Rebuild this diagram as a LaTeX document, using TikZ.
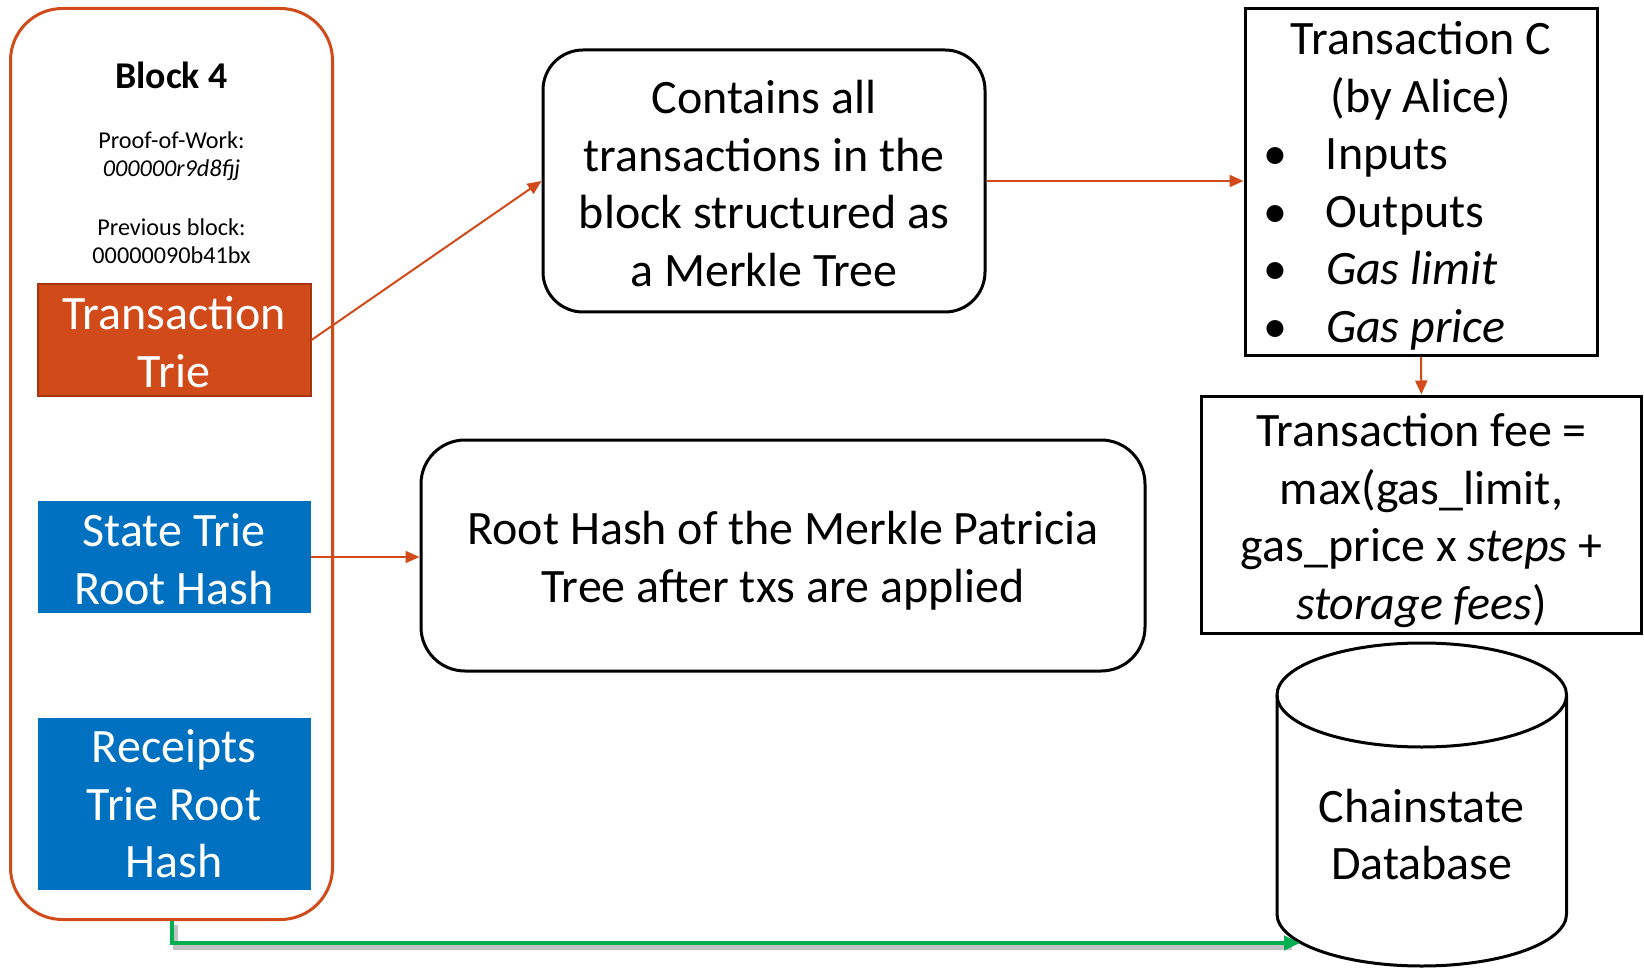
\documentclass[tikz,border=0pt]{standalone}
\usepackage{fontspec}
\setmainfont{Carlito}
\usepackage{tikz}
\usetikzlibrary{arrows.meta,positioning}
\definecolor{rust}{RGB}{209,74,26}
\definecolor{rustdark}{RGB}{165,52,16}
\definecolor{azure}{RGB}{0,112,192}
\definecolor{grass}{RGB}{0,176,80}
\newcommand{\bigtxt}{\fontsize{24}{28.75}\selectfont}
\newcommand{\lift}[1]{\rule{0pt}{#1}}
\tikzset{
  >={Triangle[length=7pt,width=6pt]},
  trie/.style={fill=#1,text=white,minimum width=136.5pt,inner sep=0pt,
    align=center,font=\bigtxt},
  trie/.default=azure,
  note/.style={draw=black,line width=1.5pt,rounded corners=#1,inner sep=0pt,
    align=center,font=\bigtxt},
  note/.default=0pt,
  flow/.style={->,line width=1pt,draw=#1},
  flow/.default=rust,
  meta/.style={font=\fontsize{12.1}{14.2}\selectfont,align=center},
}

\begin{document}
\begin{tikzpicture}[x=0.5pt,y=-0.5pt]
  \useasboundingbox (0,0) rectangle (1644,968);
  % the block with its header
  \node[draw=rust,line width=1.5pt,rounded corners=26pt,minimum width=161pt,
    minimum height=455.5pt] (block) at (171.5,464) {};
  \node[font=\fontsize{18.9}{22}\selectfont\bfseries] (title) at (171.5,75.5) {Block 4};
  \node[meta] (pow) at (171.5,156) {Proof-of-Work:\\\textit{000000r9d8fjj}};
  \node[meta] (prev) at (171.5,241) {Previous block:\\00000090b41bx};
  % the three roots
  \node[trie=rust,draw=rustdark,line width=1pt,minimum height=55.5pt] (ttrie) at (174,340) {\lift{18.5pt}Transaction\\Trie};
  \node[trie,minimum height=56pt] (strie) at (174,557) {\lift{18.5pt}State Trie\\Root Hash};
  \node[trie,minimum height=86pt] (rtrie) at (174,804) {Receipts\\Trie Root\\Hash};
  % what they stand for
  \node[note=20pt,minimum width=221pt,minimum height=131pt] (merkle) at (764,181)
    {\lift{19.3pt}Contains all\\transactions in the\\block structured as\\a Merkle Tree};
  \node[note=22pt,minimum width=362pt,minimum height=115.5pt] (root) at (783,555.5)
    {\lift{22pt}Root Hash of the Merkle Patricia\\Tree after txs are applied};
  \node[note,minimum width=176pt,minimum height=173.5pt] (txc) at (1421,182) {%
    \begin{tabular}{@{\hspace{9pt}}p{31.5pt}@{}p{135.5pt}@{}}
      \multicolumn{2}{@{}c@{}}{\lift{22.7pt}Transaction C}\\
      \multicolumn{2}{@{}c@{}}{(by Alice)}\\
      \textbullet & Inputs\\
      \textbullet & Outputs\\
      \textbullet & \textit{Gas limit}\\
      \textbullet & \textit{Gas price}\\[-2.6pt]
    \end{tabular}};
  \node[note,minimum width=219.7pt,minimum height=118.5pt] (fee) at (1421.4,514.5)
    {\lift{22.5pt}Transaction fee =\\max(gas\_limit,\\gas\_price x \textit{steps} +\\\textit{storage fees})};
  % database drum
  \draw[line width=1.5pt] (1277,695) -- (1277,914)
    arc[start angle=180,end angle=0,x radius=144.75,y radius=52] -- (1566.5,695);
  \draw[line width=1.5pt] (1421.75,695) ellipse [x radius=144.75,y radius=52];
  \node[font=\bigtxt,align=center] (db) at (1421.75,834.5) {Chainstate\\Database};
  \coordinate (dbin) at (1300,943);
  % connectors
  \draw[flow] (ttrie.east) -- (merkle.west);
  \draw[flow] (strie.east) -- (strie.east -| root.west);
  \draw[flow] (merkle.east) -- (merkle.east -| txc.west);
  \draw[flow] (txc.south) -- (fee.north);
  \draw[black!40,opacity=.6,line width=2.5pt] ([xshift=2pt,yshift=-2pt]block.south) |- ([xshift=-4pt,yshift=-2pt]dbin);
  \draw[grass,line width=2pt,-{Triangle[length=8pt,width=7pt]}] (block.south) |- (dbin);
\end{tikzpicture}
\end{document}
